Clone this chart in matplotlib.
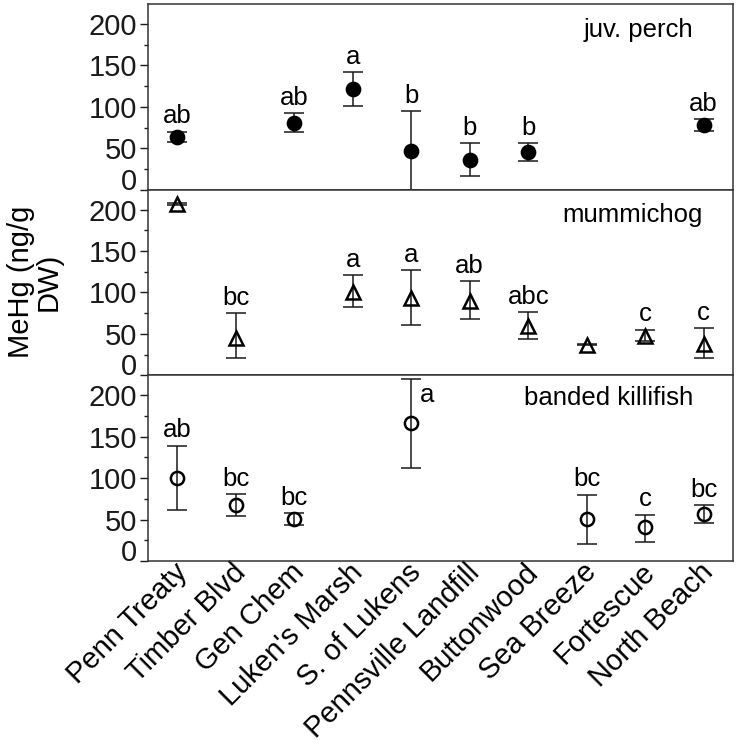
import numpy as np
import matplotlib.pyplot as plt
import matplotlib.transforms as mtransforms
from matplotlib.ticker import MultipleLocator

plt.rcParams['font.family'] = ['Liberation Sans', 'DejaVu Sans']

nan = np.nan
sites = ["Penn Treaty", "Timber Blvd", "Gen Chem", "Luken's Marsh", "S. of Lukens",
         "Pennsville Landfill", "Buttonwood", "Sea Breeze", "Fortescue", "North Beach"]

# juvenile perch
perch_mean = [63, nan, 80, 122, 47, 36, 45, nan, nan, 78]
perch_lo = [58, nan, 70, 101, -1, 16, 35, nan, nan, 71]
perch_hi = [70, nan, 92, 142, 95, 56, 56, nan, nan, 85]
perch_letters = ["ab", "", "ab", "a", "b", "b", "b", "", "", "ab"]

# mummichog
mummi_mean = [207, 45, nan, 100, 93, 90, 59, 36, 47, 38]
mummi_lo = [206, 21, nan, 83, 61, 68, 44, 36, 41, 21]
mummi_hi = [208, 75, nan, 121, 127, 114, 76, 38, 55, 57]
mummi_letters = ["", "bc", "", "a", "a", "ab", "abc", "", "c", "c"]

# banded killifish
killi_mean = [100, 68, 51, nan, 167, nan, nan, 51, 41, 57]
killi_lo = [61, 54, 43, nan, 112, nan, nan, 21, 23, 46]
killi_hi = [139, 81, 58, nan, 220, nan, nan, 80, 56, 67]
killi_letters = ["ab", "bc", "bc", "", "a", "", "", "bc", "c", "bc"]

panels = [
    ("juv. perch", perch_mean, perch_lo, perch_hi, perch_letters,
     dict(marker='o', mfc='black', ms=9.5), (0.932, 0.86)),
    ("mummichog", mummi_mean, mummi_lo, mummi_hi, mummi_letters,
     dict(marker='^', mfc='none', ms=10), (0.949, 0.865)),
    ("banded killifish", killi_mean, killi_lo, killi_hi, killi_letters,
     dict(marker='o', mfc='none', ms=9.5), (0.932, 0.88)),
]

W, H = 737, 750
fig = plt.figure(figsize=(W / 100, H / 100), dpi=100)
left, right = 148 / W, 733 / W
top, bottom = 1 - 4 / H, 1 - 561 / H
ph = (top - bottom) / 3

ink = '#1a1a1a'
x = np.arange(len(sites))
axes = []
for i, (name, mean, lo, hi, letters, mstyle, lpos) in enumerate(panels):
    ax = fig.add_axes([left, top - (i + 1) * ph, right - left, ph])
    axes.append(ax)
    mean = np.array(mean, float)
    lo = np.array(lo, float)
    hi = np.array(hi, float)
    yerr = np.vstack([mean - lo, hi - mean])
    ax.errorbar(x, mean, yerr=yerr, fmt='none', ecolor=ink, elinewidth=1.1,
                capsize=7.2, capthick=1.1)
    ax.plot(x, mean, linestyle='none', color='black', mec='black', mew=1.8, **mstyle)
    for k, lab in enumerate(letters):
        if not lab:
            continue
        if name == "banded killifish" and sites[k] == "S. of Lukens":
            ax.annotate(lab, (x[k], hi[k]), xytext=(6, -3), textcoords='offset points',
                        ha='left', va='top', fontsize=18.5)
        else:
            ax.annotate(lab, (x[k], hi[k]), xytext=(0, 6), textcoords='offset points',
                        ha='center', va='baseline', fontsize=18.5)
    ax.text(lpos[0], lpos[1], name, transform=ax.transAxes, ha='right', va='center',
            fontsize=18.5)

    ax.set_xlim(-0.5, len(sites) - 0.5)
    ax.set_ylim(0, 224)
    ax.set_yticks([0, 50, 100, 150, 200])
    ax.yaxis.set_minor_locator(MultipleLocator(25))
    ax.tick_params(axis='y', which='major', direction='out', length=6, width=1,
                   labelsize=21, colors=ink, pad=2)
    ax.tick_params(axis='y', which='minor', direction='out', length=3, width=1, colors=ink)
    ax.tick_params(axis='x', which='both', length=0)
    for s in ax.spines.values():
        s.set_color('#333333')
        s.set_linewidth(1.1)
    ax.get_yticklabels()[0].set_verticalalignment('baseline')
    if i < 2:
        ax.set_xticklabels([])

axes[-1].set_xticks(x)
axes[-1].set_xticklabels(sites, rotation=45, ha='right', va='center',
                         rotation_mode='anchor', fontsize=21)
axes[-1].tick_params(axis='x', pad=5)
shift = mtransforms.ScaledTranslation(4 / 72, 0, fig.dpi_scale_trans)
for lbl in axes[-1].get_xticklabels():
    lbl.set_transform(lbl.get_transform() + shift)

fig.text(35 / W, 1 - 282 / H, "MeHg (ng/g\nDW)", rotation=90, ha='center', va='center',
         multialignment='center', fontsize=21, linespacing=1.0)

fig.savefig("out.png", dpi=100)
